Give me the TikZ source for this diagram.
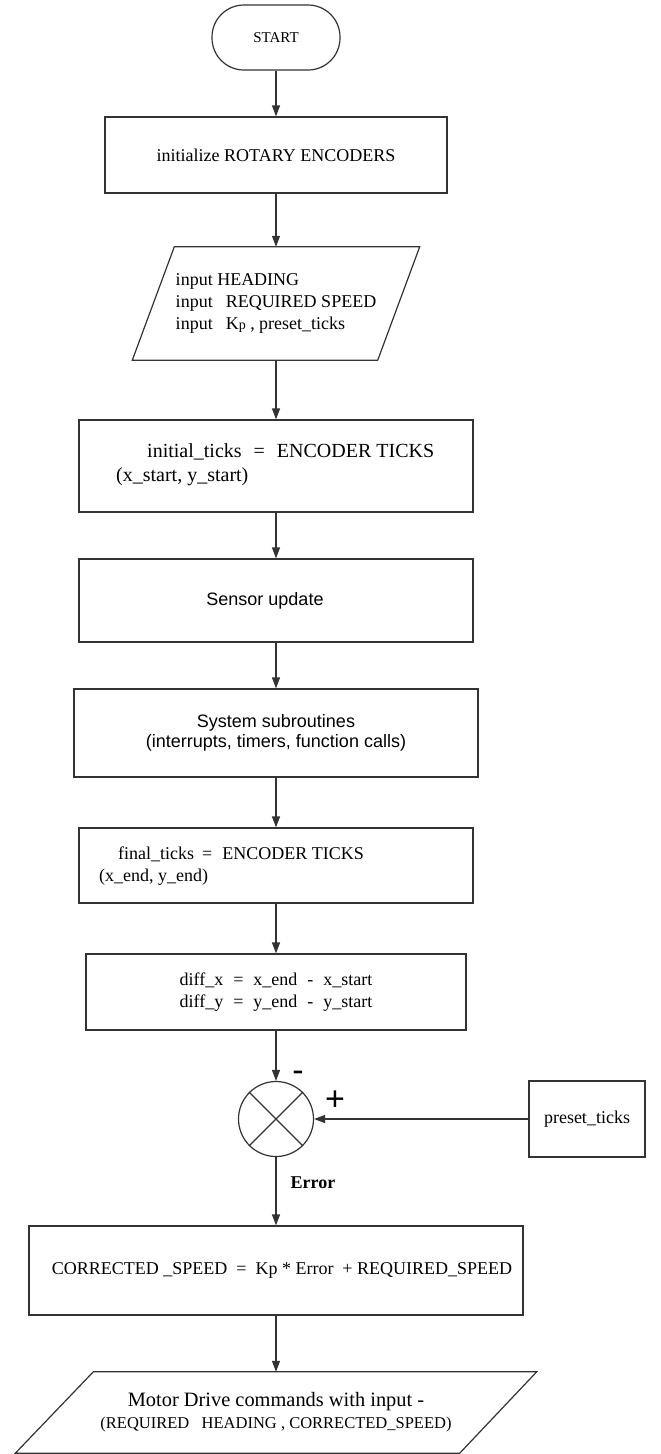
\documentclass[tikz,border=0pt]{standalone}
\usepackage{fontspec}
\setmainfont{Liberation Serif}
\setsansfont{Liberation Sans}
\usetikzlibrary{arrows.meta}
\begin{document}
\begin{tikzpicture}[x=1pt,y=-1pt,
  ln/.style={draw=black!80, line width=1.2pt},
  box/.style={ln, rectangle, inner sep=0pt, font=\fontsize{18}{22}\selectfont},
  plain/.style={rectangle, inner sep=0pt, font=\fontsize{18}{22}\selectfont},
  arr/.style={draw=black!80, line width=1.2pt, -{Triangle[length=11pt,width=8pt]}},
  sign/.style={font=\sffamily\fontsize{34}{34}\selectfont, inner sep=0pt},
]
\useasboundingbox (0,0) rectangle (661,1454);

% START
\node[ln, rounded corners=32pt, minimum width=128pt, minimum height=65pt,
      inner sep=0pt, font=\fontsize{15}{18}\selectfont] (start) at (276,37.5) {START};

% initialize
\node[box, minimum width=342pt, minimum height=76pt] (init) at (276,155)
  {initialize ROTARY ENCODERS};

% input parallelogram
\node[plain, minimum width=287pt, minimum height=113pt, align=left] (in) at (276,303.5)
  {input\ HEADING\\
   input\hspace{13pt}REQUIRED SPEED\\
   input\hspace{13pt}K{\fontsize{14}{14}\selectfont p} , preset\_ticks};
\draw[ln] ([xshift=42pt]in.north west) -- (in.north east)
  -- ([xshift=-42pt]in.south east) -- (in.south west) -- cycle;

% initial ticks
\node[box, minimum width=394pt, minimum height=92pt] (initb) at (276,466) {};
\node[plain, anchor=west, align=left, font=\fontsize{20}{24}\selectfont] (initbt) at (116,465)
  {\hspace*{31pt}initial\_ticks\hspace{12pt}=\hspace{12pt}ENCODER TICKS\\
   (x\_start, y\_start)};

% sensor update
\node[box, minimum width=394pt, minimum height=83pt,
      font=\sffamily\fontsize{18}{20}\selectfont] (sensor) at (276,600.5)
  {Sensor update\kern22pt};

% system subroutines
\node[box, minimum width=404pt, minimum height=88pt, align=center,
      font=\sffamily\fontsize{18}{20}\selectfont] (sys) at (276,733)
  {System subroutines\\(interrupts, timers, function calls)};

% final ticks
\node[box, minimum width=394pt, minimum height=75pt] (final) at (276,865.5) {};
\node[plain, anchor=west, align=left] (finalt) at (99,866)
  {\hspace*{19pt}final\_ticks\hspace{8pt}=\hspace{10pt}ENCODER TICKS\\
   (x\_end, y\_end)};

% diff
\node[box, minimum width=380pt, minimum height=76pt, align=left] (diff) at (276,992)
  {diff\_x\hspace{10pt}=\hspace{10pt}x\_end\hspace{10pt}-\hspace{10pt}x\_start\\
   diff\_y\hspace{10pt}=\hspace{10pt}y\_end\hspace{10pt}-\hspace{10pt}y\_start};

% summing junction
\node[ln, circle, minimum size=75pt, inner sep=0pt] (sum) at (276,1119) {};
\draw[ln] (sum.north west) -- (sum.south east);
\draw[ln] (sum.north east) -- (sum.south west);
\node[sign] (minus) at (298,1076) {-};
\node[sign] (plus) at (335,1101) {+};

% preset ticks
\node[box, minimum width=116pt, minimum height=76pt] (pt) at (587,1119) {preset\_ticks};

% error label
\node[plain, font=\bfseries\fontsize{18}{22}\selectfont] (err) at (313,1183) {Error};

% corrected speed
\node[box, minimum width=494pt, minimum height=89pt] (corr) at (276,1270.5)
  {\kern12pt CORRECTED \_SPEED\ \ =\ \ Kp * Error\ \ + REQUIRED\_SPEED};

% motor drive parallelogram
\node[plain, minimum width=521pt, minimum height=81pt, align=center] (motor) at (276,1412.5)
  {{\fontsize{20.4}{21}\selectfont Motor Drive commands with input -}\\
   {\fontsize{16.5}{21}\selectfont (REQUIRED\ \ \ HEADING , CORRECTED\_SPEED)}};
\draw[ln] ([xshift=78pt]motor.north west) -- (motor.north east)
  -- ([xshift=-77pt]motor.south east) -- (motor.south west) -- cycle;

% connectors
\draw[arr] (start) -- (init);
\draw[arr] (init) -- (in);
\draw[arr] (in) -- (initb);
\draw[arr] (initb) -- (sensor);
\draw[arr] (sensor) -- (sys);
\draw[arr] (sys) -- (final);
\draw[arr] (final) -- (diff);
\draw[arr] (diff) -- (sum);
\draw[arr] (pt) -- (sum);
\draw[arr] (sum) -- (corr);
\draw[arr] (corr) -- (motor);
\end{tikzpicture}
\end{document}
